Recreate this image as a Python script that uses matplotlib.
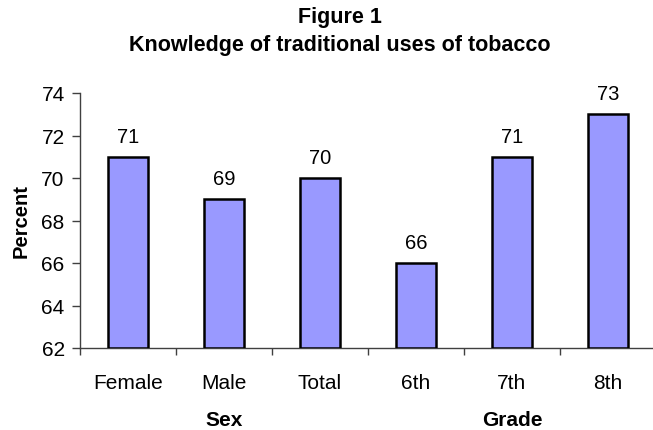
import matplotlib
matplotlib.use("Agg")
import matplotlib.pyplot as plt
import numpy as np

plt.rcParams['font.family'] = ['Liberation Sans', 'DejaVu Sans']

categories = ["Female", "Male", "Total", "6th", "7th", "8th"]
values = [71, 69, 70, 66, 71, 73]
groups = ["Sex", "Grade"]
group_sizes = [3, 3]
yticks = [62, 64, 66, 68, 70, 72, 74]

W, H = 653, 431
fig = plt.figure(figsize=(W / 100, H / 100), dpi=100)
ax = fig.add_axes([80 / W, 82 / H, 576 / W, (349 - 94) / H])

x = np.arange(len(categories))
ax.bar(x, [v - yticks[0] for v in values], bottom=yticks[0], width=0.42,
       color="#9999FF", edgecolor="black", linewidth=1.8, zorder=3)

for xi, v in zip(x, values):
    ax.annotate(str(v), (xi, v), xytext=(0, 8), textcoords="offset points",
                ha="center", va="bottom", fontsize=14.5)

ax.set_xlim(-0.5, len(categories) - 0.5)
ax.set_ylim(yticks[0], yticks[-1])
ax.set_yticks(yticks)
ax.tick_params(axis="y", labelsize=15, length=6, width=1, color="#404040", pad=5)

# category labels centered, tick marks at category boundaries
ax.set_xticks(np.arange(len(categories) + 1) - 0.5)
ax.set_xticklabels([])
ax.set_xticks(x, minor=True)
ax.set_xticklabels(categories, minor=True, fontsize=15)
ax.tick_params(axis="x", which="major", length=5, width=1, color="#404040")
ax.tick_params(axis="x", which="minor", length=0, pad=18)

for s in ["top", "right"]:
    ax.spines[s].set_visible(False)
for s in ["left", "bottom"]:
    ax.spines[s].set_color("#404040")
    ax.spines[s].set_linewidth(1)

ax.set_ylabel("Percent", fontsize=14.5, fontweight="bold", labelpad=8)

# group labels under the categories
start = 0
for g, n in zip(groups, group_sizes):
    center = start + (n - 1) / 2
    ax.text(center, -0.282, g, transform=ax.get_xaxis_transform(),
            ha="center", va="center", fontsize=15, fontweight="bold")
    start += n

fig.text(340 / W, 1 - 17 / H, "Figure 1", ha="center", va="center",
         fontsize=15.5, fontweight="bold")
fig.text(340 / W, 1 - 45 / H, "Knowledge of traditional uses of tobacco",
         ha="center", va="center", fontsize=15.5, fontweight="bold")

fig.savefig("out.png", dpi=100, facecolor="white")
